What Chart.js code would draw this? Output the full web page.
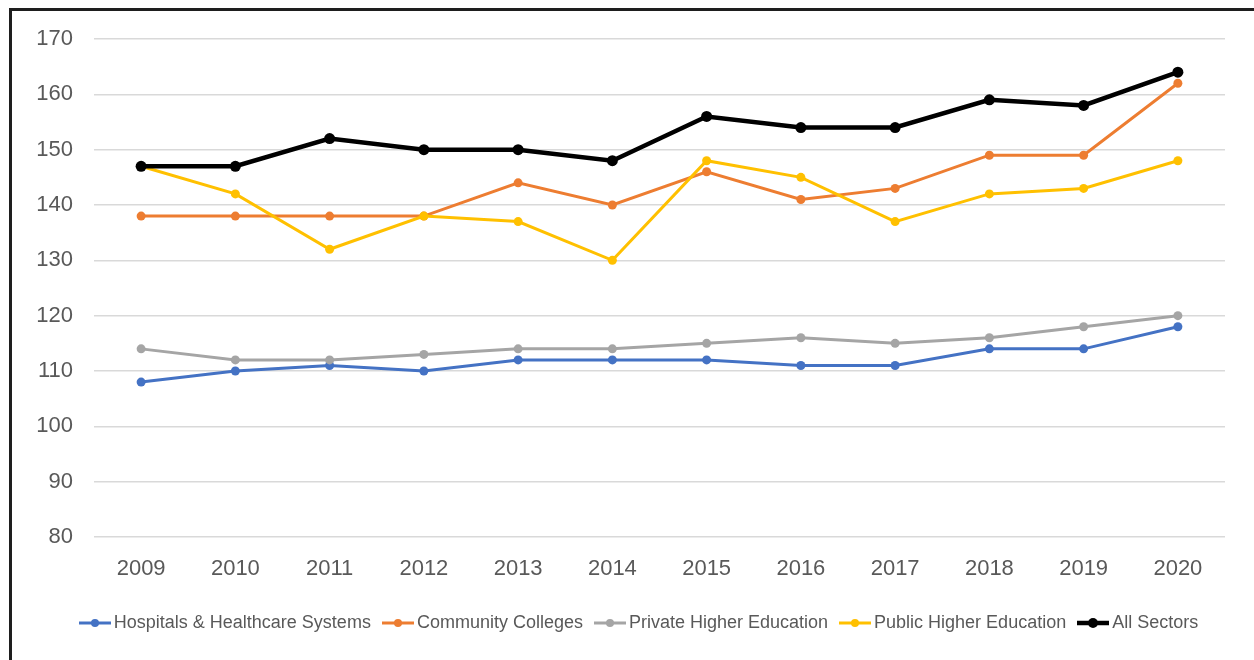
<!DOCTYPE html>
<html>
<head>
<meta charset="utf-8">
<script src="https://cdn.jsdelivr.net/npm/chart.js@4"></script>
<style>
  html, body { margin:0; padding:0; width:1254px; height:660px; overflow:hidden; background:#fff; }
  #frame { position:absolute; left:9px; top:8px; width:2000px; height:2000px; border:3px solid #1e1e1e; box-sizing:border-box; }
  #c { position:absolute; left:0; top:0; }
  #legend { position:absolute; left:-4px; top:612px; width:1285px; display:flex; justify-content:center; align-items:center;
            font-family:"Liberation Sans", Arial, sans-serif; font-size:18px; color:#595959; }
  .item { display:flex; align-items:center; margin:0 5.5px; white-space:nowrap; }
  .item canvas { margin-right:3px; }
</style>
</head>
<body>
<div id="frame"></div>
<canvas id="c" width="1254" height="660"></canvas>
<div id="legend"></div>
<script>
const years = ["2009","2010","2011","2012","2013","2014","2015","2016","2017","2018","2019","2020"];
const seriesNames = ["Hospitals & Healthcare Systems","Community Colleges","Private Higher Education","Public Higher Education","All Sectors"];
const hospitals = [108,110,111,110,112,112,112,111,111,114,114,118];
const communityColleges = [138,138,138,138,144,140,146,141,143,149,149,162];
const privateHigherEd = [114,112,112,113,114,114,115,116,115,116,118,120];
const publicHigherEd = [147,142,132,138,137,130,148,145,137,142,143,148];
const allSectors = [147,147,152,150,150,148,156,154,154,159,158,164];
const yTicks = [80,90,100,110,120,130,140,150,160,170];

const colors = ["#4472C4","#ED7D31","#A5A5A5","#FFC000","#000000"];
const values = [hospitals, communityColleges, privateHigherEd, publicHigherEd, allSectors];
const lineW = [3,3,3,3,4.5];
const ptR = [4.5,4.5,4.5,4.5,5.5];

const datasets = values.map((v,i)=>({
  label: seriesNames[i],
  data: v,
  borderColor: colors[i],
  backgroundColor: colors[i],
  borderWidth: lineW[i],
  pointRadius: ptR[i],
  pointBorderWidth: 0,
  pointBackgroundColor: colors[i],
  tension: 0,
  order: 5 - i
}));

new Chart(document.getElementById('c'), {
  type: 'line',
  data: { labels: years, datasets },
  options: {
    responsive: false,
    animation: false,
    devicePixelRatio: 1,
    layout: { padding: { left: 0, right: 29, top: 39, bottom: 73 } },
    plugins: { legend: { display: false }, tooltip: { enabled: false } },
    scales: {
      x: {
        offset: true,
        grid: { display: false, drawTicks: false },
        border: { display: false },
        ticks: { color: "#595959", font: { family: "Liberation Sans", size: 22 }, padding: 19, maxRotation: 0 },
        afterFit: s => { s.height = 50; }
      },
      y: {
        min: 80, max: 170,
        afterBuildTicks: s => { s.ticks = yTicks.map(v=>({value:v})); },
        grid: { color: "#d9d9d9", lineWidth: 1.5, drawTicks: false },
        border: { display: false },
        ticks: { color: "#595959", font: { family: "Liberation Sans", size: 22 }, padding: 21 },
        afterFit: s => { s.width = 94; }
      }
    }
  }
});

const legend = document.getElementById('legend');
seriesNames.forEach((name,i)=>{
  const item = document.createElement('div');
  item.className = 'item';
  const mk = document.createElement('canvas');
  mk.width = 32; mk.height = 14;
  const ctx = mk.getContext('2d');
  ctx.strokeStyle = colors[i]; ctx.lineWidth = lineW[i];
  ctx.beginPath(); ctx.moveTo(0,7); ctx.lineTo(32,7); ctx.stroke();
  ctx.fillStyle = colors[i];
  ctx.beginPath(); ctx.arc(16,7,ptR[i]-0.5,0,Math.PI*2); ctx.fill();
  item.appendChild(mk);
  const t = document.createElement('span');
  t.textContent = name;
  item.appendChild(t);
  legend.appendChild(item);
});
</script>
</body>
</html>
